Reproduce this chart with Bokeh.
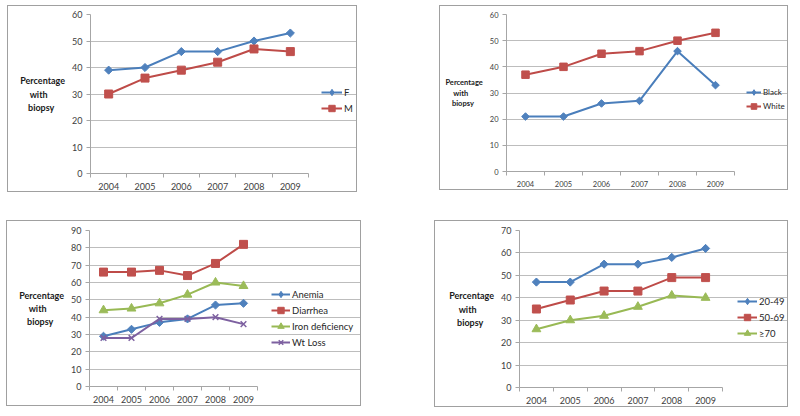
import math
from bokeh.plotting import figure
from bokeh.layouts import column, row
from bokeh.models import Range1d, FixedTicker, Legend, LegendItem, Spacer
from bokeh.embed import file_html
from bokeh.resources import INLINE

# ---------------- data ----------------
years = ["2004", "2005", "2006", "2007", "2008", "2009"]

sex_labels = ["F", "M"]
sex_f = [39, 40, 46, 46, 50, 53]
sex_m = [30, 36, 39, 42, 47, 46]

race_labels = ["Black", "White"]
race_black = [21, 21, 26, 27, 46, 33]
race_white = [37, 40, 45, 46, 50, 53]

sym_labels = ["Anemia", "Diarrhea", "Iron deficiency", "Wt Loss"]
sym_anemia = [29, 33, 37, 39, 47, 48]
sym_diarrhea = [66, 66, 67, 64, 71, 82]
sym_iron = [44, 45, 48, 53, 60, 58]
sym_wtloss = [28, 28, 39, 39, 40, 36]

age_labels = ["20-49", "50-69", "\u226570"]
age_2049 = [47, 47, 55, 55, 58, 62]
age_5069 = [35, 39, 43, 43, 49, 49]
age_70 = [26, 30, 32, 36, 41, 40]

# the axis label is right-aligned line by line; trailing no-break spaces
# bring the short lines to the centre of the widest one
NB = "\u00a0"
y_label_text = "Percentage\nwith" + NB * 8 + "\nbiopsy" + NB * 5

# ---------------- styles ----------------
FONT = "Lato"
BLUE = ("#4A7EBB", "#4F81BD")
RED = ("#BE4B48", "#C0504D")
GREEN = ("#98B954", "#9BBB59")
PURPLE = ("#7D60A0", "#8064A2")
GRID = "#BDBDBD"
AXIS = "#A6A6A6"
TICK_TXT = "#404040"


def make_panel(series, labels, ymax, width, height, ml, mt, mb, plot_w,
               tick_fs, label_fs, legend_fs, legend_pos,
               glyph_w, pitch, msize):
    mr = 2
    n = len(years)
    xs = [i + 0.5 for i in range(n)]
    # the frame also holds the legend area; data occupy the first plot_w px
    x_end = n * (width - ml - mr) / plot_w
    p = figure(width=width, height=height,
               min_border_left=ml, min_border_right=mr,
               min_border_top=mt, min_border_bottom=mb,
               x_range=Range1d(0, x_end), y_range=Range1d(0, ymax),
               output_backend="svg", toolbar_location=None)
    p.styles = {"border": "1px solid #A0A0A0"}
    p.outline_line_color = None
    p.background_fill_color = "white"
    p.border_fill_color = "white"
    p.xgrid.visible = False
    p.ygrid.grid_line_color = GRID
    p.ygrid.grid_line_width = 1
    p.ygrid.bounds = (0, n)

    xa = p.xaxis[0]
    xa.bounds = (0, n)
    xa.ticker = FixedTicker(ticks=xs, minor_ticks=list(range(n + 1)))
    xa.major_label_overrides = {x: y for x, y in zip(xs, years)}
    xa.major_tick_line_color = None
    xa.major_tick_out = 0
    xa.major_tick_in = 0
    xa.minor_tick_line_color = AXIS
    xa.minor_tick_out = 4
    xa.minor_tick_in = 0
    xa.axis_line_color = AXIS
    xa.major_label_text_font = FONT
    xa.major_label_text_font_size = tick_fs
    xa.major_label_text_color = TICK_TXT
    xa.major_label_standoff = 5

    ya = p.yaxis[0]
    ya.ticker = FixedTicker(ticks=list(range(0, ymax + 1, 10)))
    ya.minor_tick_line_color = None
    ya.major_tick_line_color = AXIS
    ya.major_tick_out = 4
    ya.major_tick_in = 0
    ya.axis_line_color = AXIS
    ya.major_label_text_font = FONT
    ya.major_label_text_font_size = tick_fs
    ya.major_label_text_color = TICK_TXT
    ya.major_label_standoff = 4
    ya.axis_label = y_label_text
    ya.axis_label_orientation = "horizontal"
    ya.axis_label_standoff = 4
    ya.axis_label_text_font = FONT
    ya.axis_label_text_font_style = "bold"
    ya.axis_label_text_font_size = label_fs
    ya.axis_label_text_color = "#1A1A1A"
    ya.axis_label_text_line_height = 1.2

    items = []
    for (vals, (lc, fc), marker), lab in zip(series, labels):
        r_line = p.line(xs, vals, line_color=lc, line_width=2)
        leg_rs = [r_line]
        if marker == "diamond":
            r_m = p.scatter(xs, vals, marker="square", angle=math.pi / 4,
                            size=msize * 0.72, fill_color=fc, line_color=fc)
            # legend swatch: same series, shown only in the legend
            r_key = p.scatter(xs, vals, marker="diamond", size=msize,
                              fill_color=fc, line_color=fc, visible=False)
            leg_rs.append(r_key)
        elif marker == "x":
            r_m = p.scatter(xs, vals, marker="x", size=msize,
                            line_color=lc, line_width=1.5)
            leg_rs.append(r_m)
        elif marker == "triangle":
            r_m = p.scatter(xs, vals, marker="triangle", size=msize * 1.1,
                            fill_color=fc, line_color=fc)
            leg_rs.append(r_m)
        else:
            r_m = p.scatter(xs, vals, marker="square", size=msize,
                            fill_color=fc, line_color=fc)
            leg_rs.append(r_m)
        items.append(LegendItem(label=lab, renderers=leg_rs))

    leg = Legend(items=items,
                 location=(plot_w + legend_pos[0], legend_pos[1]),
                 border_line_color=None, background_fill_alpha=0,
                 padding=0, margin=0, spacing=0,
                 glyph_width=glyph_w, glyph_height=pitch, label_height=pitch,
                 label_standoff=2,
                 label_text_font=FONT, label_text_font_size=legend_fs,
                 label_text_color="#262626")
    p.add_layout(leg)
    return p


p1 = make_panel(
    [(sex_f, BLUE, "diamond"), (sex_m, RED, "square")], sex_labels, 60,
    width=350, height=187, ml=82, mt=8, mb=20, plot_w=218,
    tick_fs="9px", label_fs="9px", legend_fs="9.5px",
    legend_pos=(13, 57), glyph_w=21, pitch=16, msize=8)

p2 = make_panel(
    [(race_black, BLUE, "diamond"), (race_white, RED, "square")], race_labels, 60,
    width=349, height=185, ml=66, mt=8, mb=18, plot_w=228,
    tick_fs="7.5px", label_fs="7.5px", legend_fs="8px",
    legend_pos=(12, 58), glyph_w=15, pitch=14, msize=7.5)

p3 = make_panel(
    [(sym_anemia, BLUE, "diamond"), (sym_diarrhea, RED, "square"),
     (sym_iron, GREEN, "triangle"), (sym_wtloss, PURPLE, "x")], sym_labels, 90,
    width=355, height=186, ml=82, mt=9, mb=20, plot_w=168,
    tick_fs="9px", label_fs="9px", legend_fs="9.5px",
    legend_pos=(14, 36), glyph_w=19, pitch=16, msize=8)

p4 = make_panel(
    [(age_2049, BLUE, "diamond"), (age_5069, RED, "square"),
     (age_70, GREEN, "triangle")], age_labels, 70,
    width=354, height=187, ml=84, mt=8, mb=21, plot_w=203,
    tick_fs="9px", label_fs="9px", legend_fs="9.5px",
    legend_pos=(15, 46), glyph_w=20, pitch=16, msize=8)

layout = column(
    Spacer(width=10, height=5),
    row(Spacer(width=7, height=10), p1, Spacer(width=82, height=10), p2),
    Spacer(width=10, height=28),
    row(Spacer(width=6, height=10), p3, Spacer(width=73, height=10), p4),
)

open("out.html", "w").write(file_html(layout, INLINE))
